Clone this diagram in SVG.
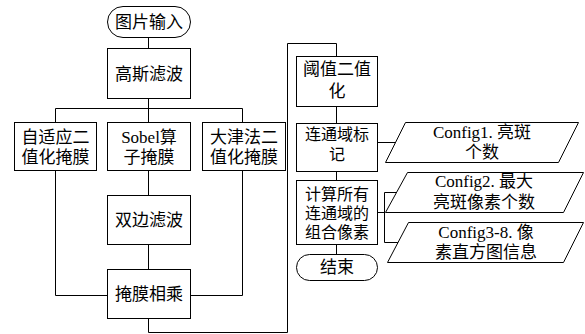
<svg xmlns="http://www.w3.org/2000/svg" width="585" height="334" viewBox="0 0 585 334">
<style>
.s{fill:#fff;stroke:#000;stroke-width:1}
.c{fill:none;stroke:#000;stroke-width:1}
text{font-family:"Liberation Serif","Noto Sans CJK SC",serif;font-size:17px;fill:#000;text-anchor:middle}
.t{font-size:16px}
</style>
<rect width="585" height="334" fill="#fff"/>
<g id="connectors">
<path class="c" d="M148.5 37V48"/>
<path class="c" d="M148.5 98V122M55.5 122V108.5H242.5V122"/>
<path class="c" d="M55.5 170V295.5H107M242.5 170V295.5H190"/>
<path class="c" d="M148.5 170V195M148.5 244V269"/>
<path class="c" d="M148.5 318V332.5H287.5V43.5H336.5V56"/>
<path class="c" d="M336.5 106V123M336.5 171V180M336.5 244V254"/>
<path class="c" d="M377 142.5H395"/>
<path class="c" d="M377 212.5H384.5M384.5 192.5V242.5M384.5 192.5H397M384.5 242.5H398"/>
</g>
<g id="n1"><rect class="s" x="107.5" y="6.5" width="83" height="31" rx="15.5"/><text x="149" y="28">图片输入</text></g>
<g id="n2"><rect class="s" x="107.5" y="48.5" width="83" height="50"/><text x="149" y="80">高斯滤波</text></g>
<g id="n3"><rect class="s" x="14.5" y="122.5" width="82" height="48"/><text x="55.5" y="143">自适应二</text><text x="55.5" y="163">值化掩膜</text></g>
<g id="n4"><rect class="s" x="107.5" y="122.5" width="83" height="48"/><text x="149" y="143">Sobel算</text><text x="149" y="163">子掩膜</text></g>
<g id="n5"><rect class="s" x="202.5" y="122.5" width="83" height="48"/><text x="244" y="143">大津法二</text><text x="244" y="163">值化掩膜</text></g>
<g id="n6"><rect class="s" x="107.5" y="195.5" width="83" height="49"/><text x="149" y="226">双边滤波</text></g>
<g id="n7"><rect class="s" x="107.5" y="269.5" width="83" height="49"/><text x="149" y="300">掩膜相乘</text></g>
<g id="n8"><rect class="s" x="296.5" y="56.5" width="81" height="50"/><text x="337" y="75">阈值二值</text><text x="337" y="97">化</text></g>
<g id="n9"><rect class="s" x="296.5" y="123.5" width="81" height="48"/><text class="t" x="337" y="140">连通域标</text><text class="t" x="337" y="160">记</text></g>
<g id="n10"><rect class="s" x="296.5" y="180.5" width="81" height="64"/><text class="t" x="337" y="200">计算所有</text><text class="t" x="337" y="219">连通域的</text><text class="t" x="337" y="238">组合像素</text></g>
<g id="n11"><rect class="s" x="296.5" y="254.5" width="81" height="26" rx="13"/><text x="337" y="273">结束</text></g>
<g id="p1"><polygon class="s" points="405.5,122.5 578.5,122.5 558.5,162.5 385.5,162.5"/><text x="482" y="138">Config1. 亮斑</text><text x="482" y="158">个数</text></g>
<g id="p2"><polygon class="s" points="407.5,172.5 583.5,172.5 563.5,212.5 385.5,212.5"/><text x="484" y="187">Config2. 最大</text><text x="484" y="208">亮斑像素个数</text></g>
<g id="p3"><polygon class="s" points="408.5,222.5 583.5,222.5 563.5,262.5 387.5,262.5"/><text x="486" y="238">Config3-8. 像</text><text x="486" y="258">素直方图信息</text></g>
</svg>
